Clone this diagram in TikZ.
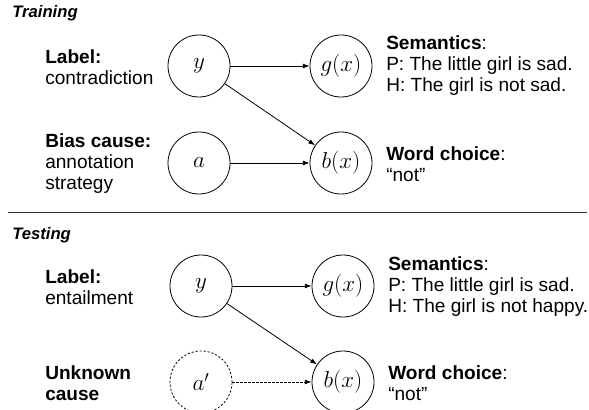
\documentclass[tikz,border=0pt]{standalone}
\usepackage{fontspec}
\setmainfont{Liberation Sans}
\usepackage{tikz}
\usetikzlibrary{arrows.meta, positioning}

\begin{document}
\begin{tikzpicture}[
  x=0.75pt, y=-0.75pt,
  var/.style={circle, draw, line width=0.6pt, minimum size=46.5pt, inner sep=0pt,
    font=\fontsize{16.8}{19}\selectfont},
  hidden/.style={var, dash pattern=on 1.6pt off 1.4pt},
  txt/.style={align=left, inner sep=0pt, anchor=west, font=\fontsize{14.3}{15.75}\selectfont},
  head/.style={inner sep=0pt, anchor=west, font=\fontsize{12.5}{14}\selectfont\bfseries\itshape},
  edge/.style={-{Latex[length=5pt, width=3.6pt]}, line width=0.6pt},
]

\useasboundingbox (0,0) rectangle (589,410);

%% Training
\node[head] (trainHead) at (12,13) {Training};

\node[var] (Y1) at (199,66)  {$y$};
\node[var] (G1) at (341,66)  {$g(x)$};
\node[var] (A1) at (199,163) {$a$};
\node[var] (B1) at (341,163) {$b(x)$};

\draw[edge] (Y1) -- (G1);
\draw[edge] (Y1) -- (B1);
\draw[edge] (A1) -- (B1);

\node[txt] (labY1) at (45,67)  {\textbf{Label:}\\contradiction};
\node[txt] (labA1) at (45,164) {\textbf{Bias cause:}\\annotation\\strategy};
\node[txt] (labG1) at (386,66) {\textbf{Semantics}:\\P: The little girl is sad.\\H: The girl is not sad.};
\node[txt] (labB1) at (386,164) {\textbf{Word choice}:\\“not”};

%% Divider
\draw[line width=0.7pt, black!80] (8,212) -- (587,212);

%% Testing
\node[head] (testHead) at (12,235) {Testing};

\node[var]    (Y2) at (201,286) {$y$};
\node[var]    (G2) at (343,286) {$g(x)$};
\node[hidden] (A2) at (201,382) {$a'$};
\node[var]    (B2) at (343,382) {$b(x)$};

\draw[edge] (Y2) -- (G2);
\draw[edge] (Y2) -- (B2);
\draw[edge, dash pattern=on 1.6pt off 1.4pt] (A2) -- (B2);

\node[txt] (labY2) at (45,287)  {\textbf{Label:}\\entailment};
\node[txt] (labA2) at (45,383)  {\textbf{Unknown}\\\textbf{cause}};
\node[txt] (labG2) at (388,287) {\textbf{Semantics}:\\P: The little girl is sad.\\H: The girl is not happy.};
\node[txt] (labB2) at (388,383) {\textbf{Word choice}:\\“not”};

\end{tikzpicture}
\end{document}
